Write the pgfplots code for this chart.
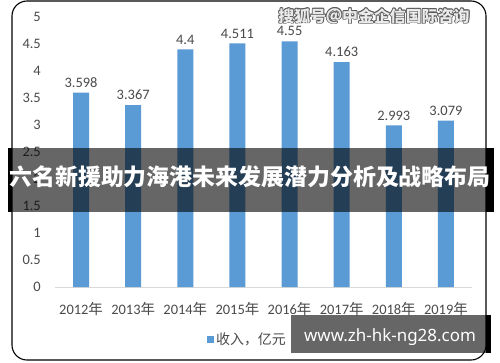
\documentclass[border=0pt]{standalone}
\usepackage{fontspec}
\setmainfont{Carlito}
\newfontfamily\cjk{Noto Sans CJK SC}
\newfontfamily\notosans{Noto Sans}
\usepackage{pgfplots}
\pgfplotsset{compat=1.18}
\definecolor{barblue}{HTML}{5B9BD5}
\definecolor{txt}{HTML}{4A4A4A}
\definecolor{gridc}{HTML}{D9D9D9}
\newcommand{\wm}{\cjk\bfseries\fontsize{16}{16}\selectfont 搜狐号＠中金企信国际咨询}
\begin{document}
\begin{tikzpicture}[x=1bp,y=1bp]
\path[use as bounding box] (0,0) rectangle (500,362);
\fill[white] (0,0) rectangle (500,362);
\begin{axis}[
  at={(55bp,75bp)}, anchor=south west,
  scale only axis, width=417bp, height=270bp,
  xmin=-0.5, xmax=7.5, ymin=0, ymax=5,
  enlargelimits=false,
  ytick={0,0.5,1,1.5,2,2.5,3,3.5,4,4.5,5},
  xtick={0,1,2,3,4,5,6,7},
  xticklabels={{2012{\cjk 年}},{2013{\cjk 年}},{2014{\cjk 年}},{2015{\cjk 年}},{2016{\cjk 年}},{2017{\cjk 年}},{2018{\cjk 年}},{2019{\cjk 年}}},
  axis x line*=bottom, axis y line*=left,
  y axis line style={draw=none},
  x axis line style={draw=gridc, line width=1bp, -},
  tick style={draw=none},
  /pgf/number format/assume math mode=true,
  ticklabel style={font=\fontsize{14.5}{16}\selectfont, text=txt},
  yticklabel style={anchor=east, inner sep=0pt, xshift=-14bp},
  xticklabel style={anchor=north, inner sep=0pt, yshift=-11bp},
  ybar, bar width=16bp,
  nodes near coords, point meta=explicit symbolic,
  every node near coord/.append style={font=\fontsize{14.5}{16}\selectfont, text=txt, anchor=south, inner sep=0pt, yshift=5bp},
  legend style={at={(axis description cs:0.4616,-0.1926)}, anchor=center, draw=none, fill=none, font=\cjk\fontsize{14}{16}\selectfont, text=txt},
  legend image code/.code={\fill[barblue] (0bp,-3.5bp) rectangle (7bp,3.5bp);},
]
\addplot[fill=barblue, draw=none] coordinates {
  (0,3.598) [3.598]
  (1,3.367) [3.367]
  (2,4.4)   [4.4]
  (3,4.511) [4.511]
  (4,4.55)  [4.55]
  (5,4.163) [4.163]
  (6,2.993) [2.993]
  (7,3.079) [3.079]
};
\addlegendentry{收入，亿元}
\end{axis}
% frame
\draw[line width=1.1bp, rounded corners=15bp] (12,2) rectangle (486,361);
% banner
\fill[black] (8,150) rectangle (12,214);
\fill[black] (486,150) rectangle (494,214);
\fill[black, opacity=0.6] (12,150) rectangle (486,214);
\node[text=white, inner sep=0pt] at (250,185) {\cjk\bfseries\fontsize{23}{23}\selectfont 六名新援助力海港未来发展潜力分析及战略布局};
% bottom box
\fill[black] (486,9) rectangle (491,47);
\fill[black, opacity=0.6] (291,9) rectangle (486,47);
\node[text=white, inner sep=0pt] at (390,25) {\notosans\bfseries\fontsize{17}{17}\selectfont www.zh-hk-ng28.com};
% watermark
\foreach \dx/\dy in {-0.8/0,0.8/0,0/-0.8,0/0.8,-0.6/-0.6,0.6/0.6,-0.6/0.6,0.6/-0.6}{
  \node[text=black!65, inner sep=0pt] at (374+\dx,346+\dy) {\wm};
}
\node[text=white!92!black, inner sep=0pt] at (374,346) {\wm};
\end{tikzpicture}
\end{document}
